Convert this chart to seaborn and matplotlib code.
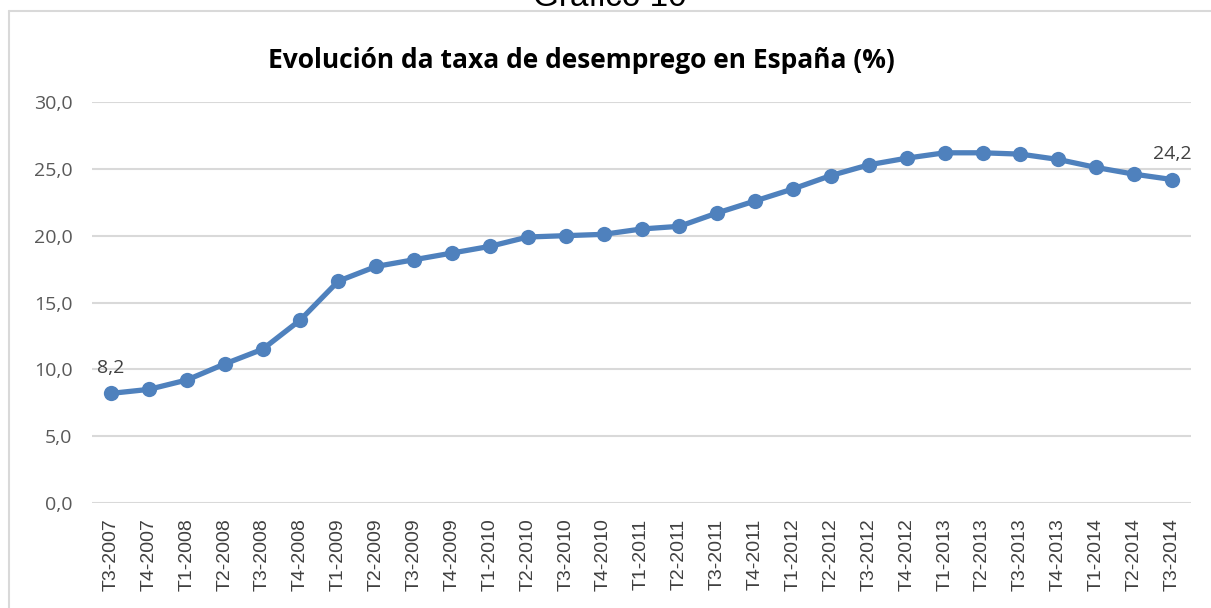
import matplotlib
matplotlib.use("Agg")
import matplotlib.pyplot as plt
import seaborn as sns
import pandas as pd
from matplotlib.lines import Line2D

periods = ["T3-2007", "T4-2007", "T1-2008", "T2-2008", "T3-2008", "T4-2008",
           "T1-2009", "T2-2009", "T3-2009", "T4-2009", "T1-2010", "T2-2010",
           "T3-2010", "T4-2010", "T1-2011", "T2-2011", "T3-2011", "T4-2011",
           "T1-2012", "T2-2012", "T3-2012", "T4-2012", "T1-2013", "T2-2013",
           "T3-2013", "T4-2013", "T1-2014", "T2-2014", "T3-2014"]
rates = [8.2, 8.5, 9.2, 10.4, 11.5, 13.7, 16.6, 17.7, 18.2, 18.7, 19.2, 19.9,
         20.0, 20.1, 20.5, 20.7, 21.7, 22.6, 23.5, 24.5, 25.3, 25.8, 26.2, 26.2,
         26.1, 25.7, 25.1, 24.6, 24.2]
yticks = [0, 5, 10, 15, 20, 25, 30]
ytick_labels = ["0,0", "5,0", "10,0", "15,0", "20,0", "25,0", "30,0"]
title = "Evolución da taxa de desemprego en España (%)"
header = "Gráfico 10"

df = pd.DataFrame({"periodo": periods, "taxa": rates})
df["pos"] = range(len(df))

sns.set_theme(style="white")
plt.rcParams["font.family"] = ["Open Sans", "DejaVu Sans"]

W, H = 1211, 608
fig = plt.figure(figsize=(W / 100, H / 100), dpi=100)
ax = fig.add_axes([92 / W, 1 - 503 / H, (1191 - 92) / W, (503 - 102) / H])

blue = "#4F81BD"
sns.lineplot(data=df, x="pos", y="taxa", ax=ax, color=blue, linewidth=3.8,
             marker="o", markersize=11, markeredgewidth=0, zorder=3)

ax.set_xlim(-0.5, len(periods) - 0.5)
ax.set_ylim(0, 30)
ax.set_yticks(yticks)
ax.set_yticklabels(ytick_labels, fontsize=14, color="#595959")
ax.set_xticks(range(len(periods)))
ax.set_xticklabels(periods, rotation=90, fontsize=14, color="#404040",
                   family=["Liberation Sans", "DejaVu Sans"])
ax.tick_params(axis="y", length=0, pad=14)
ax.tick_params(axis="x", length=0, pad=11)
ax.set_xlabel("")
ax.set_ylabel("")
for s in ax.spines.values():
    s.set_visible(False)
ax.yaxis.grid(True, color="#d9d9d9", linewidth=1.5)
ax.xaxis.grid(False)
ax.set_axisbelow(True)

# data labels for first and last points
for i in (0, len(rates) - 1):
    ax.annotate(f"{rates[i]:.1f}".replace(".", ","), (df["pos"][i], rates[i]),
                xytext=(0, 12), textcoords="offset points", ha="center",
                va="bottom", fontsize=14, color="#404040")

fig.text(581 / W, 1 - 60 / H, title, ha="center", va="center",
         fontsize=19, fontweight="bold", color="#000000")
fig.text(610 / W, 1 - 6 / H, header, ha="center", va="baseline",
         fontsize=24, color="#000000", family=["Liberation Sans", "DejaVu Sans"])

# chart frame (top and left edges visible)
fig.add_artist(Line2D([8.5 / W, 1.0], [1 - 10.5 / H, 1 - 10.5 / H],
                      transform=fig.transFigure, color="#d9d9d9", linewidth=1.5))
fig.add_artist(Line2D([8.5 / W, 8.5 / W], [0.0, 1 - 10.5 / H],
                      transform=fig.transFigure, color="#d9d9d9", linewidth=1.5))

fig.savefig("out.png", dpi=100, facecolor="white")
